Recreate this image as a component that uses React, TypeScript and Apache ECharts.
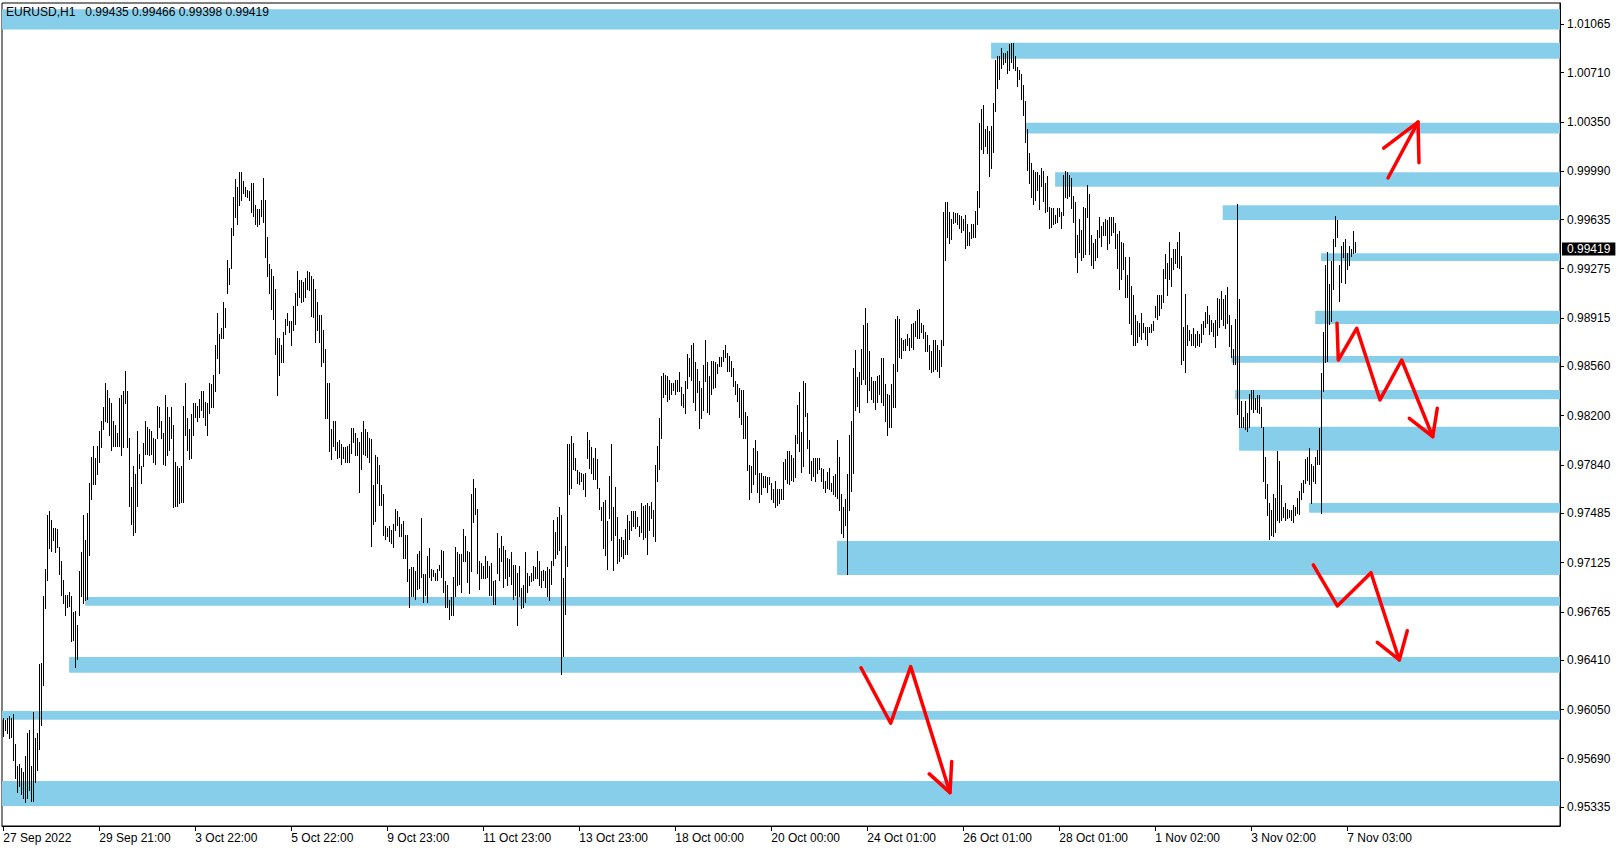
import React, { useEffect, useRef } from 'react';
import * as echarts from 'echarts';

// ---- header ----
const symbolLabel = 'EURUSD,H1';
const lastOpen = 0.99435;
const lastHigh = 0.99466;
const lastLow = 0.99398;
const lastClose = 0.99419;

// ---- x axis (H1 bar index) ----
const xLabelBars = [0, 48, 96, 144, 192, 240, 288, 336, 384, 432, 480, 528, 576, 624, 672];
const xLabels = [
  '27 Sep 2022', '29 Sep 21:00', '3 Oct 22:00', '5 Oct 22:00', '9 Oct 23:00',
  '11 Oct 23:00', '13 Oct 23:00', '18 Oct 00:00', '20 Oct 00:00', '24 Oct 01:00',
  '26 Oct 01:00', '28 Oct 01:00', '1 Nov 02:00', '3 Nov 02:00', '7 Nov 03:00',
];

// ---- y axis ticks ----
const yTicks = [
  1.01065, 1.0071, 1.0035, 0.9999, 0.99635, 0.99275, 0.98915, 0.9856, 0.982,
  0.9784, 0.97485, 0.97125, 0.96765, 0.9641, 0.9605, 0.9569, 0.95335,
];

// ---- H1 bars: highs ----
const barHighs = [
  // 0
  .9599, .9597, .9599, .9600, .9599, .9602, .9580, .9564, .9565, .9562,
  .9559, .9571, .9588, .9590, .9564, .9603, .9584, .9588, .9638, .9639,
  .9688, .9708, .9747, .9750, .9744, .9738, .9738, .9737, .9724, .9714,
  .9700, .9689, .9689, .9691, .9688, .9676, .9677, .9667, .9706, .9720,
  .9747, .9729, .9749, .9771, .9790, .9798, .9789, .9798, .9809, .9816,
  // 50
  .9826, .9844, .9839, .9833, .9829, .9816, .9813, .9807, .9833, .9835,
  .9838, .9853, .9838, .9804, .9768, .9783, .9777, .9809, .9792, .9783,
  .9800, .9816, .9812, .9810, .9809, .9804, .9803, .9827, .9826, .9816,
  .9807, .9835, .9826, .9819, .9826, .9813, .9786, .9783, .9782, .9783,
  .9827, .9844, .9818, .9810, .9821, .9829, .9829, .9827, .9832, .9838,
  // 100
  .9838, .9830, .9829, .9844, .9843, .9850, .9872, .9895, .9880, .9884,
  .9903, .9899, .9934, .9928, .9957, .9980, .9993, .9987, .9998, .9998,
  .9992, .9987, .9985, .9984, .9990, .9990, .9974, .9971, .9971, .9978,
  .9994, .9978, .9951, .9931, .9927, .9922, .9913, .9877, .9877, .9872,
  .9881, .9891, .9895, .9889, .9889, .9900, .9910, .9926, .9919, .9919,
  // 150
  .9918, .9921, .9926, .9925, .9922, .9920, .9913, .9903, .9894, .9894,
  .9883, .9869, .9844, .9844, .9810, .9816, .9816, .9801, .9802,
  // 169
  .9799, .9797, .9797, .9798, .9799, .9811, .9811, .9807, .9804, .9801,
  .9808, .9816, .9810, .9808, .9804, .9803, .9769, .9791, .9790, .9784,
  .9769, .9763, .9739, .9738, .9739, .9736, .9741, .9752, .9750, .9746,
  .9741, .9743, .9733, .9733, .9708, .9709, .9709, .9706, .9719, .9721,
  .9745, .9704, .9704, .9717, .9723, .9708, .9707, .9705, .9708, .9711,
  // 219
  .9722, .9721, .9699, .9696, .9685, .9687, .9702, .9724, .9720, .9719,
  .9719, .9737, .9732, .9721, .9720, .9763, .9774, .9767, .9752, .9714,
  .9712, .9710, .9717, .9714, .9710, .9712, .9699, .9700, .9734, .9723,
  .9732, .9725, .9722, .9716, .9715, .9720, .9711, .9711, .9705, .9710,
  .9694, .9696, .9720, .9705, .9703, .9705, .9710, .9709, .9721, .9714,
  // 269
  .9706, .9707, .9706, .9709, .9708, .9714, .9744, .9735, .9746, .9753,
  .9747, .9701, .9725, .9799, .9799, .9805, .9800, .9789, .9780, .9779,
  .9778, .9777, .9778, .9808, .9802, .9797, .9789, .9796, .9788, .9767,
  .9753, .9757, .9758, .9743, .9776, .9799, .9753, .9768, .9746, .9730,
  .9731, .9729, .9737, .9747, .9743, .9750, .9750, .9750, .9746, .9739,
  // 319
  .9756, .9754, .9755, .9756, .9754, .9757, .9751, .9784, .9798, .9818,
  .9849, .9851, .9850, .9849, .9846, .9844, .9844, .9846, .9846, .9852,
  // 339
  .9841, .9836, .9845, .9865, .9862, .9872, .9873, .9859, .9854, .9845,
  .9840, .9857, .9875, .9859, .9849, .9860, .9860, .9859, .9858, .9863,
  .9863, .9868, .9872, .9866, .9864, .9860, .9855, .9845, .9843, .9840,
  .9839, .9839, .9823, .9820, .9784, .9783, .9796, .9802, .9794, .9778,
  .9778, .9776, .9776, .9775, .9775, .9771, .9766, .9772, .9766, .9766,
  // 389
  .9766, .9786, .9788, .9794, .9794, .9791, .9789, .9806, .9828, .9837,
  .9808, .9845, .9844, .9822, .9802, .9787, .9789, .9789, .9789, .9789,
  .9782, .9781, .9772, .9779, .9782, .9771, .9776, .9777, .9802, .9790,
  .9763, .9753, .9759, .9777, .9806, .9816, .9855, .9868, .9848, .9852,
  .9869, .9886, .9899, .9888, .9867, .9848, .9845, .9845, .9849, .9850,
  // 439
  .9862, .9862, .9843, .9836, .9835, .9843, .9858, .9891, .9893, .9891,
  .9877, .9875, .9876, .9880, .9877, .9887, .9888, .9889, .9897, .9898,
  .9888, .9886, .9881, .9879, .9872, .9867, .9875, .9875, .9872, .9868,
  .9875, .9969, .9976, .9976, .9969, .9964, .9969, .9968, .9968, .9967,
  .9966, .9964, .9967, .9960, .9954, .9960, .9960, .9970, .9984, 1.0034,
  // 489
  1.0044, 1.0047, 1.0030, 1.0032, 1.0028, 1.0032, 1.0049, 1.0080, 1.0083, 1.0083,
  1.0089, 1.0085, 1.0085, 1.0087, 1.0092, 1.0093, 1.0093, 1.0083, 1.0075, 1.0073,
  // 509
  1.0070, 1.0062, 1.0050, 1.0030, 1.0012, 1.0005, 1.0000, .9998,
  // 517
  .9998, .9996, 1.0001, .9999, .9990, .9995, .9973, .9972, .9972, .9967,
  .9972, .9972, .9969, .9996, .9999, .9998, .9996, .9994, .9981, .9976,
  .9952, .9964, .9956, .9973, .9972, .9989, .9982, .9952, .9946, .9949,
  .9956, .9965, .9959, .9962, .9964, .9963, .9965, .9965, .9965, .9961,
  .9953, .9955, .9947, .9946, .9936, .9923, .9936, .9915, .9908, .9894,
  // 567
  .9889, .9888, .9895, .9888, .9885, .9885, .9885, .9887, .9889, .9900,
  .9908, .9908, .9908, .9927, .9938, .9932, .9947, .9935, .9942, .9942,
  .9947, .9954, .9937, .9885, .9909, .9886, .9883, .9880, .9884, .9880,
  .9882, .9880, .9887, .9889, .9896, .9900, .9894, .9890, .9888, .9890,
  .9906, .9905, .9911, .9905, .9908, .9914, .9894, .9886, .9869, .9891,
  // 617
  .9975, .9905, .9831, .9819, .9831, .9822, .9836, .9839, .9839, .9833,
  .9835, .9835, .9826, .9812, .9790, .9770, .9756, .9751, .9763, .9760,
  .9794, .9787, .9769, .9753, .9756, .9752, .9751, .9751, .9755, .9753,
  .9760, .9765, .9771, .9773, .9788, .9790, .9796, .9785, .9783, .9790,
  .9795, .9811, .9851, .9881, .9930, .9940, .9916, .9933, .9949, .9966,
  // 667
  .9963, .9930, .9944, .9947, .9949, .9939, .9944, .9942, .9955, .9947,
];

// ---- H1 bars: lows ----
const barLows = [
  // 0
  .9586, .9590, .9588, .9584, .9585, .9568, .9555, .9545, .9549, .9543,
  .9540, .9537, .9540, .9546, .9538, .9538, .9552, .9561, .9576, .9594,
  .9623, .9679, .9700, .9723, .9721, .9729, .9720, .9724, .9704, .9689,
  .9683, .9674, .9680, .9681, .9655, .9656, .9636, .9642, .9674, .9688,
  .9683, .9685, .9686, .9718, .9759, .9770, .9770, .9777, .9786, .9797,
  // 50
  .9810, .9816, .9815, .9806, .9795, .9798, .9798, .9798, .9798, .9791,
  .9797, .9829, .9797, .9754, .9741, .9733, .9735, .9754, .9782, .9771,
  .9783, .9792, .9792, .9791, .9792, .9786, .9785, .9804, .9812, .9804,
  .9785, .9784, .9791, .9795, .9804, .9753, .9754, .9754, .9756, .9757,
  .9757, .9806, .9795, .9788, .9789, .9806, .9819, .9816, .9819, .9824,
  // 100
  .9819, .9813, .9806, .9822, .9826, .9826, .9838, .9862, .9851, .9877,
  .9877, .9885, .9910, .9916, .9928, .9952, .9965, .9960, .9974, .9978,
  .9983, .9981, .9980, .9978, .9969, .9966, .9960, .9959, .9960, .9966,
  .9962, .9936, .9922, .9910, .9898, .9891, .9865, .9835, .9850, .9859,
  .9859, .9880, .9886, .9881, .9872, .9883, .9887, .9901, .9907, .9903,
  // 150
  .9904, .9907, .9913, .9912, .9893, .9892, .9874, .9883, .9874, .9856,
  .9859, .9818, .9818, .9794, .9788, .9798, .9795, .9789, .9790,
  // 169
  .9785, .9789, .9786, .9786, .9786, .9793, .9801, .9791, .9791, .9764,
  .9781, .9792, .9791, .9790, .9786, .9725, .9741, .9743, .9771, .9755,
  .9755, .9733, .9730, .9732, .9728, .9727, .9724, .9736, .9740, .9732,
  .9732, .9716, .9716, .9699, .9680, .9688, .9688, .9686, .9693, .9694,
  .9702, .9684, .9689, .9684, .9702, .9700, .9703, .9700, .9700, .9707,
  // 219
  .9702, .9691, .9680, .9680, .9671, .9674, .9674, .9688, .9696, .9697,
  .9691, .9714, .9714, .9698, .9690, .9706, .9742, .9748, .9705, .9693,
  .9701, .9701, .9701, .9702, .9689, .9689, .9682, .9682, .9705, .9700,
  .9714, .9695, .9701, .9696, .9703, .9697, .9686, .9689, .9667, .9688,
  .9679, .9680, .9684, .9691, .9696, .9699, .9700, .9701, .9701, .9696,
  // 269
  .9695, .9700, .9695, .9688, .9685, .9697, .9711, .9716, .9719, .9722,
  .9631, .9644, .9675, .9710, .9763, .9767, .9781, .9780, .9771, .9770,
  .9772, .9766, .9761, .9789, .9782, .9778, .9774, .9774, .9767, .9752,
  .9744, .9723, .9718, .9708, .9745, .9729, .9707, .9733, .9712, .9714,
  .9717, .9716, .9719, .9719, .9730, .9736, .9739, .9738, .9739, .9732,
  // 319
  .9735, .9730, .9731, .9719, .9736, .9745, .9732, .9728, .9772, .9781,
  .9804, .9834, .9836, .9831, .9832, .9836, .9839, .9836, .9838, .9838,
  // 339
  .9828, .9826, .9822, .9840, .9849, .9846, .9830, .9824, .9837, .9811,
  .9818, .9824, .9845, .9823, .9821, .9836, .9840, .9841, .9851, .9856,
  .9856, .9860, .9863, .9853, .9853, .9849, .9842, .9836, .9831, .9819,
  .9814, .9804, .9804, .9780, .9759, .9764, .9770, .9777, .9764, .9757,
  .9763, .9768, .9768, .9764, .9770, .9759, .9757, .9753, .9755, .9756,
  // 389
  .9759, .9759, .9774, .9771, .9770, .9773, .9772, .9775, .9800, .9794,
  .9779, .9783, .9820, .9796, .9778, .9773, .9776, .9772, .9778, .9781,
  .9772, .9767, .9764, .9767, .9766, .9765, .9763, .9761, .9760, .9751,
  .9734, .9731, .9740, .9704, .9751, .9765, .9778, .9824, .9827, .9823,
  .9843, .9847, .9843, .9830, .9839, .9832, .9830, .9825, .9830, .9836,
  // 439
  .9830, .9828, .9816, .9806, .9812, .9812, .9826, .9826, .9853, .9863,
  .9862, .9868, .9868, .9872, .9868, .9870, .9869, .9878, .9877, .9877,
  .9881, .9877, .9867, .9867, .9854, .9852, .9853, .9854, .9853, .9848,
  .9856, .9872, .9934, .9951, .9946, .9949, .9961, .9962, .9960, .9957,
  .9954, .9956, .9943, .9945, .9945, .9950, .9951, .9951, .9960, .9973,
  // 489
  1.0015, 1.0012, 1.0017, 1.0012, .9995, 1.0001, 1.0013, 1.0043, 1.0060, 1.0066,
  1.0074, 1.0077, 1.0079, 1.0071, 1.0073, 1.0079, 1.0074, 1.0073, 1.0061, 1.0066,
  // 509
  1.0052, 1.0040, 1.0020, 1.0000, .9990, .9980, .9975, .9978,
  // 517
  .9985, .9971, .9988, .9977, .9969, .9970, .9957, .9958, .9960, .9961,
  .9962, .9966, .9957, .9967, .9980, .9979, .9981, .9972, .9962, .9936,
  .9925, .9940, .9934, .9936, .9938, .9965, .9938, .9930, .9928, .9934,
  .9936, .9951, .9944, .9952, .9952, .9942, .9946, .9952, .9954, .9943,
  .9928, .9913, .9920, .9927, .9907, .9907, .9888, .9880, .9872, .9872,
  // 567
  .9874, .9878, .9876, .9881, .9876, .9872, .9881, .9881, .9883, .9892,
  .9891, .9894, .9899, .9903, .9921, .9908, .9920, .9915, .9927, .9932,
  .9929, .9928, .9858, .9861, .9852, .9872, .9875, .9872, .9872, .9870,
  .9872, .9871, .9874, .9880, .9885, .9888, .9880, .9882, .9878, .9870,
  .9879, .9885, .9891, .9886, .9884, .9888, .9871, .9863, .9858, .9858,
  // 617
  .9821, .9812, .9812, .9812, .9810, .9809, .9812, .9825, .9823, .9825,
  .9823, .9822, .9812, .9772, .9760, .9747, .9730, .9733, .9732, .9735,
  .9744, .9742, .9744, .9746, .9744, .9745, .9746, .9744, .9742, .9747,
  .9749, .9748, .9759, .9764, .9771, .9773, .9770, .9756, .9772, .9771,
  .9785, .9785, .9749, .9838, .9859, .9860, .9887, .9889, .9913, .9944,
  // 667
  .9951, .9904, .9918, .9936, .9917, .9927, .9930, .9937, .9939, .9940,
];

// ---- support / resistance zones (start bar, top price, bottom price) ----
const zoneStart = [-0.65, 493.9, 511, 525.9, 609.7, 658.9, 656, 614, 615.9, 617.9, 652.9, 416.9, 41, 32.9, -0.65, -0.65];
const zoneTop = [1.01173, 1.00928, 1.00343, 0.9998, 0.99739, 0.99388, 0.98968, 0.98636, 0.98388, 0.98119, 0.97561, 0.97283, 0.96873, 0.96435, 0.9604, 0.95527];
const zoneBottom = [1.01026, 1.00811, 1.00265, 0.99875, 0.99631, 0.99331, 0.9887, 0.98587, 0.9832, 0.97944, 0.9749, 0.97034, 0.9681, 0.9632, 0.95976, 0.95345];

// ---- hand-drawn red arrows (bar index, price) ----
const arrowUpLine = [[692.35, 0.99939], [707.35, 1.00348]];
const arrowUpHead = [[690.2, 1.00157], [707.35, 1.00348], [707.85, 1.00051]];
const arrowA = [[666.85, 0.98876], [667.5, 0.98607], [676.7, 0.98839], [688.35, 0.98315], [699.2, 0.98607], [714.7, 0.98046]];
const arrowAHead = [[703, 0.98181], [714.7, 0.98046], [717, 0.98254]];
const arrowB = [[655, 0.97108], [667, 0.96808], [683.85, 0.97051], [698, 0.96413]];
const arrowBHead = [[687, 0.96542], [698, 0.96413], [702, 0.96627]];
const arrowC = [[428.85, 0.96356], [443.7, 0.9595], [453.7, 0.96364], [473.35, 0.95442]];
const arrowCHead = [[463, 0.95579], [473.35, 0.95442], [474.2, 0.95669]];

const X_MIN = -0.65;
const X_MAX = 778.35;
const Y_MIN = 0.95198;
const Y_MAX = 1.01219;
const FONT = "'Liberation Sans', Arial, sans-serif";

export default function App() {
  const ref = useRef<HTMLDivElement>(null);
  useEffect(() => {
    document.body.style.margin = '0';
    if (!ref.current) return;
    const chart = echarts.init(ref.current, undefined, { renderer: 'svg' });
    const barData = barHighs.map((h, i) => [i, h, barLows[i]]);
    const zones = zoneStart.map((s, i) => [
      { xAxis: s, yAxis: zoneTop[i] },
      { xAxis: X_MAX, yAxis: zoneBottom[i] },
    ]);
    const arrows = [arrowUpLine, arrowUpHead, arrowA, arrowAHead, arrowB, arrowBHead, arrowC, arrowCHead];
    const nb = '\u00a0';
    const header = `${symbolLabel}${nb}${nb}${nb}${lastOpen.toFixed(5)} ${lastHigh.toFixed(5)} ${lastLow.toFixed(5)} ${lastClose.toFixed(5)}`;
    chart.setOption({
      animation: false,
      backgroundColor: '#ffffff',
      title: {
        text: header,
        left: 6,
        top: 6,
        padding: 0,
        textStyle: { fontSize: 12, fontWeight: 'normal', color: '#000', fontFamily: FONT },
      },
      grid: {
        left: 2, right: 64, top: 3, bottom: 24,
        show: true, borderColor: '#000', borderWidth: 1, backgroundColor: 'transparent',
      },
      xAxis: {
        type: 'value', min: X_MIN, max: X_MAX,
        axisLine: { show: true, onZero: false, lineStyle: { color: '#000', width: 1 } },
        axisTick: { show: true, length: 5, lineStyle: { color: '#000' }, customValues: xLabelBars },
        axisLabel: {
          customValues: xLabelBars,
          formatter: (v: number) => xLabels[Math.round(v / 48)] ?? '',
          align: 'left', color: '#000', fontSize: 12, fontFamily: FONT, margin: 6,
        },
        splitLine: { show: false },
      },
      yAxis: {
        type: 'value', position: 'right', min: Y_MIN, max: Y_MAX, scale: true,
        axisLine: { show: true, onZero: false, lineStyle: { color: '#000', width: 1 } },
        axisTick: { show: true, length: 4, lineStyle: { color: '#000' }, customValues: yTicks },
        axisLabel: {
          customValues: yTicks,
          formatter: (v: number) => v.toFixed(5),
          color: '#000', fontSize: 12, fontFamily: FONT, margin: 7,
        },
        splitLine: { show: false },
      },
      series: [
        {
          type: 'custom',
          z: 3,
          data: barData,
          encode: { x: 0, y: [1, 2] },
          silent: true,
          renderItem: (params: any, api: any) => {
            const t = api.coord([api.value(0), api.value(1)]);
            const b = api.coord([api.value(0), api.value(2)]);
            const x = Math.round(t[0]) + 0.5;
            return {
              type: 'line',
              shape: { x1: x, y1: Math.round(t[1]), x2: x, y2: Math.round(b[1]) + 1 },
              style: { stroke: '#000', lineWidth: 1 },
            };
          },
          markArea: {
            silent: true,
            itemStyle: { color: '#87CEEB', borderWidth: 0 },
            label: { show: false },
            data: zones,
          },
        },
        {
          type: 'line',
          z: 12,
          silent: true,
          data: [[X_MIN, lastClose], [X_MAX, lastClose]],
          symbol: 'none',
          showSymbol: false,
          lineStyle: { width: 0, color: 'rgba(0,0,0,0)' },
          endLabel: {
            show: true,
            distance: 2,
            formatter: () => lastClose.toFixed(5),
            color: '#fff',
            backgroundColor: '#000',
            padding: [1, 5, 0, 5],
            lineHeight: 12,
            fontSize: 12,
            fontFamily: FONT,
          },
        },
        ...arrows.map((path) => ({
          type: 'line',
          z: 10,
          silent: true,
          data: path,
          symbol: 'none',
          showSymbol: false,
          lineStyle: { color: '#ff0000', width: 3.5, cap: 'round', join: 'round' },
        })),
      ],
    });
    return () => chart.dispose();
  }, []);
  return <div ref={ref} style={{ position: 'absolute', left: 0, top: 0, width: 1624, height: 850 }} />;
}
